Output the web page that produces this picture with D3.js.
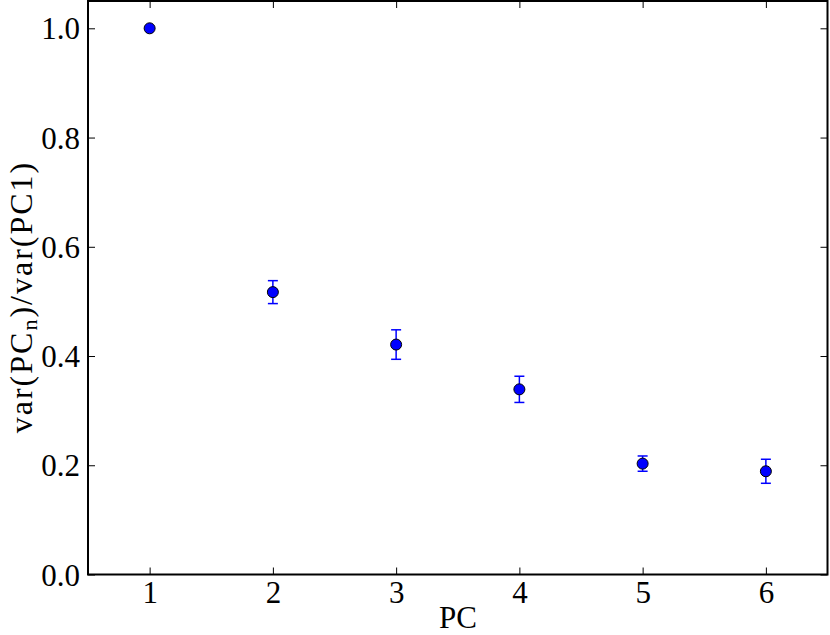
<!DOCTYPE html>
<html><head><meta charset="utf-8">
<script src="https://cdn.jsdelivr.net/npm/d3@7"></script>
<style>body{margin:0;background:#fff}</style>
</head><body>
<svg id="c" width="830" height="635"></svg>
<script>
const pcs = [1, 2, 3, 4, 5, 6];
const ratios = [1.0, 0.517, 0.421, 0.339, 0.203, 0.189];
const errors = [0.0, 0.021, 0.027, 0.024, 0.014, 0.022];
const xTicks = [1, 2, 3, 4, 5, 6];
const yTicks = [0.0, 0.2, 0.4, 0.6, 0.8, 1.0];

const svg = d3.select("#c");
const L = 88, R = 827.5, T = 1, B = 574.5;
const x = d3.scaleLinear().domain([0.5, 6.5]).range([L, R]);
const y = d3.scaleLinear().domain([0, 1.05]).range([B, T]);
const font = "'Liberation Serif', 'Times New Roman', serif";
const fs = 31;

const tl = 7;
const g = svg.append("g");
const xb = g.append("g").attr("transform", `translate(0,${B})`)
  .call(d3.axisBottom(x).tickValues(xTicks).tickSize(-tl).tickFormat(d3.format("d")))
  .call(a => a.select(".domain").remove());
xb.selectAll(".tick text").attr("y", 28).attr("dy", 0);
g.append("g").attr("transform", `translate(0,${T})`)
  .call(d3.axisTop(x).tickValues(xTicks).tickSize(-tl).tickFormat(""))
  .call(a => a.select(".domain").remove());
const yb = g.append("g").attr("transform", `translate(${L},0)`)
  .call(d3.axisLeft(y).tickValues(yTicks).tickSize(-tl).tickFormat(d3.format(".1f")))
  .call(a => a.select(".domain").remove());
yb.selectAll(".tick text").attr("x", -8).attr("dy", "0.34em");
g.append("g").attr("transform", `translate(${R},0)`)
  .call(d3.axisRight(y).tickValues(yTicks).tickSize(-tl).tickFormat(""))
  .call(a => a.select(".domain").remove());
g.selectAll(".tick line").attr("stroke", "#000").attr("stroke-width", 1);
g.selectAll("g").attr("font-family", null).attr("font-size", null);
g.selectAll(".tick text").style("font-family", font).style("font-size", fs + "px").attr("fill", "#000");

// frame
svg.append("rect").attr("x", L).attr("y", T).attr("width", R - L).attr("height", B - T)
  .attr("fill", "none").attr("stroke", "#000").attr("stroke-width", 2);

// error bars
const data = pcs.map((p, i) => ({p, v: ratios[i], e: errors[i]}));
const eb = svg.append("g").attr("stroke", "#0000ff").attr("stroke-width", 1.5);
data.filter(d => d.e > 0).forEach(d => {
  eb.append("line").attr("x1", x(d.p)).attr("x2", x(d.p)).attr("y1", y(d.v - d.e)).attr("y2", y(d.v + d.e));
  [d.v - d.e, d.v + d.e].forEach(v => {
    eb.append("line").attr("x1", x(d.p) - 5).attr("x2", x(d.p) + 5).attr("y1", y(v)).attr("y2", y(v));
  });
});

// points
svg.append("g").selectAll("circle").data(data).join("circle")
  .attr("cx", d => x(d.p)).attr("cy", d => y(d.v)).attr("r", 5.5)
  .attr("fill", "#0000ff").attr("stroke", "#000").attr("stroke-width", 1);

// labels
svg.append("text").attr("x", 458).attr("y", 628).attr("text-anchor", "middle")
  .style("font-family", font).style("font-size", "31px").text("PC");
const yl = svg.append("text").attr("transform", `translate(32,297) rotate(-90)`)
  .attr("text-anchor", "middle").style("font-family", font).style("font-size", "32px")
  .style("letter-spacing", "2px");
yl.append("tspan").text("var(PC");
yl.append("tspan").style("font-size", "22px").attr("dy", 5).text("n");
yl.append("tspan").attr("dy", -5).text(")/var(PC1)");
</script>
</body></html>
